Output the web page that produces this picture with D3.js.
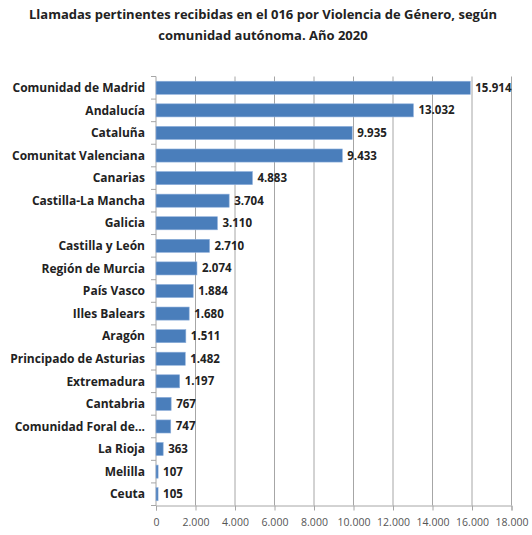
<!DOCTYPE html>
<html><head><meta charset="utf-8">
<script src="https://cdn.jsdelivr.net/npm/d3@7"></script>
<style>body{margin:0;background:#fff}</style>
</head><body>
<svg id="c" width="532" height="535"></svg>
<script>
const categories = ["Comunidad de Madrid","Andalucía","Cataluña","Comunitat Valenciana","Canarias","Castilla-La Mancha","Galicia","Castilla y León","Región de Murcia","País Vasco","Illes Balears","Aragón","Principado de Asturias","Extremadura","Cantabria","Comunidad Foral de...","La Rioja","Melilla","Ceuta"];
const values = [15914,13032,9935,9433,4883,3704,3110,2710,2074,1884,1680,1511,1482,1197,767,747,363,107,105];
const tickValues = [0,2000,4000,6000,8000,10000,12000,14000,16000,18000];
const titleLines = ["Llamadas pertinentes recibidas en el 016 por Violencia de Género, según","comunidad autónoma. Año 2020"];

const svg = d3.select("#c");
const F = "'Open Sans'";
const fmt = v => d3.format(",")(v).replace(/,/g,".");
const x = d3.scaleLinear().domain([0,18000]).range([156,511.5]);
const y = d3.scaleBand().domain(categories).range([76.5,505.5]).paddingInner(0.42).paddingOuter(0.21);

svg.selectAll("text.title").data(titleLines).join("text")
  .attr("x",263).attr("y",(d,i)=>19+i*21).attr("text-anchor","middle")
  .attr("font-family",F).attr("font-weight","bold").attr("font-size",13).attr("fill","#222").text(d=>d);

// gridlines
svg.append("g").selectAll("line").data(tickValues.slice(1)).join("line")
  .attr("x1",d=>x(d)).attr("x2",d=>x(d)).attr("y1",76.5).attr("y2",505.5)
  .attr("stroke","#a6a6a6").attr("stroke-width",1);

// x axis
const xa = svg.append("g").attr("transform","translate(0,505.5)")
  .call(d3.axisBottom(x).tickValues(tickValues).tickFormat(fmt).tickSize(5).tickPadding(8));
xa.select(".domain").attr("stroke","#a6a6a6");
xa.selectAll(".tick line").attr("stroke","#a6a6a6");
xa.selectAll("text").attr("font-family",F).attr("font-size",10.5).attr("fill","#555");

// y axis ticks at band boundaries
const bounds = categories.map(c=>y(c)-y.step()*y.paddingInner()/2).concat([505.5]);
svg.append("g").selectAll("line").data(bounds).join("line")
  .attr("x1",151).attr("x2",156).attr("y1",d=>d).attr("y2",d=>d).attr("stroke","#a6a6a6");
svg.append("line").attr("x1",156).attr("x2",156).attr("y1",76.5).attr("y2",505.5).attr("stroke","#a6a6a6");

// bars
svg.append("g").selectAll("rect").data(values).join("rect")
  .attr("x",x(0)).attr("y",(d,i)=>y(categories[i]))
  .attr("width",d=>x(d)-x(0)).attr("height",y.bandwidth())
  .attr("fill","#4a7ebb").attr("stroke","#8fb0dc").attr("stroke-width",0.6);

// category labels
svg.append("g").selectAll("text").data(categories).join("text")
  .attr("x",145).attr("y",d=>y(d)+y.bandwidth()/2).attr("dy","0.35em").attr("text-anchor","end")
  .attr("font-family",F).attr("font-weight","bold").attr("font-size",12).attr("fill","#222").text(d=>d);

// value labels
svg.append("g").selectAll("text").data(values).join("text")
  .attr("x",d=>x(d)+5).attr("y",(d,i)=>y(categories[i])+y.bandwidth()/2).attr("dy","0.35em")
  .attr("font-family",F).attr("font-weight","bold").attr("font-size",11.5).attr("fill","#222").text(d=>fmt(d));
</script>
</body></html>
